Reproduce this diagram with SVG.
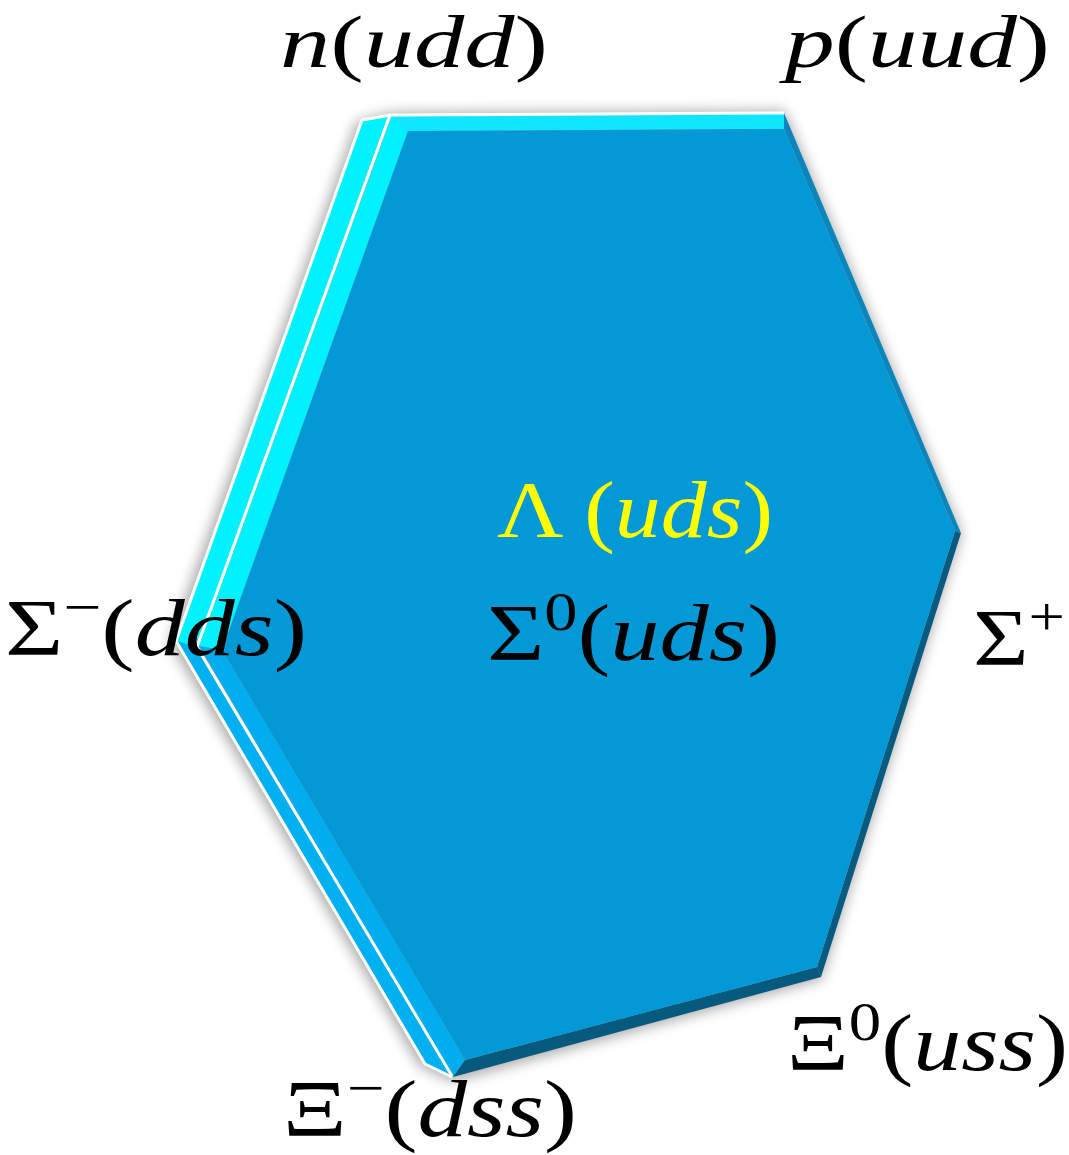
<svg xmlns="http://www.w3.org/2000/svg" width="1069" height="1155" viewBox="0 0 1069 1155">
<defs>
<filter id="sh" x="-20%" y="-20%" width="140%" height="140%">
<feGaussianBlur stdDeviation="7"/>
</filter>
<style>
.lbl{font-family:"Liberation Serif","DejaVu Serif",serif;font-size:80px;fill:#000}
.top{font-size:74px}
.it{font-style:italic}
.up{font-style:normal}
.sup{font-style:normal;font-size:54px}
.yel{fill:#ffff00}
.wl{fill:none;stroke:#ffffff;stroke-width:3;stroke-linejoin:round}
</style>
</defs>
<rect width="1069" height="1155" fill="#ffffff"/>
<g id="hexagon">
<polygon points="357,122 392,113 784,111 961,533 821,979 453,1081 420,1066 170,642" fill="#000" opacity="0.35" filter="url(#sh)"/>
<polygon points="363,120 388,116 196,647 177,641" fill="#00f2ff"/>
<polygon points="177,641 196,647 450,1075 425,1063" fill="#00b0f0"/>
<polygon points="392,115 784,113 784,129 408,131" fill="#10e6ff"/>
<polygon points="392,115 408,131 222,650 199,646" fill="#00f2ff"/>
<polygon points="199,646 222,650 465,1060 453,1077" fill="#00aeef"/>
<polygon points="784,113 961,533 955,531 784,129" fill="#0a86bd"/>
<polygon points="961,533 821,977 817,967 955,531" fill="#075a80"/>
<polygon points="821,977 453,1077 465,1060 817,967" fill="#065a7e"/>
<polygon points="408,131 784,129 955,531 817,967 465,1060 222,650" fill="#0399d6"/>
<polyline class="wl" points="390,115 197,647 452,1076"/>
<polyline class="wl" points="176,641 362,120 391,115 784,113"/>
<polyline class="wl" points="176,641 425,1064 452,1077"/>
</g>
<g id="label-n">
<text class="lbl top" x="280" y="67" textLength="268" lengthAdjust="spacingAndGlyphs"><tspan class="it">n</tspan><tspan class="up">(</tspan><tspan class="it">udd</tspan><tspan class="up">)</tspan></text>
</g>
<g id="label-p">
<text class="lbl top" x="785" y="67" textLength="265" lengthAdjust="spacingAndGlyphs"><tspan class="it">p</tspan><tspan class="up">(</tspan><tspan class="it">uud</tspan><tspan class="up">)</tspan></text>
</g>
<g id="label-lambda">
<text class="lbl yel" x="497" y="537" textLength="276" lengthAdjust="spacingAndGlyphs"><tspan class="up">Λ (</tspan><tspan class="it">uds</tspan><tspan class="up">)</tspan></text>
</g>
<g id="label-sigma0">
<text class="lbl" x="487" y="660" textLength="293" lengthAdjust="spacingAndGlyphs"><tspan class="up">Σ</tspan><tspan class="sup" dy="-30">0</tspan><tspan class="up" dy="30">(</tspan><tspan class="it">uds</tspan><tspan class="up">)</tspan></text>
</g>
<g id="label-sigma-minus">
<text class="lbl" x="5" y="655" textLength="302" lengthAdjust="spacingAndGlyphs"><tspan class="up">Σ</tspan><tspan class="sup" dy="-30">−</tspan><tspan class="up" dy="30">(</tspan><tspan class="it">dds</tspan><tspan class="up">)</tspan></text>
</g>
<g id="label-sigma-plus">
<text class="lbl" x="973" y="665" textLength="92" lengthAdjust="spacingAndGlyphs"><tspan class="up">Σ</tspan><tspan class="sup" dy="-30">+</tspan></text>
</g>
<g id="label-xi0">
<text class="lbl" x="787" y="1070" textLength="281" lengthAdjust="spacingAndGlyphs"><tspan class="up">Ξ</tspan><tspan class="sup" dy="-30">0</tspan><tspan class="up" dy="30">(</tspan><tspan class="it">uss</tspan><tspan class="up">)</tspan></text>
</g>
<g id="label-xi-minus">
<text class="lbl" x="283" y="1136" textLength="294" lengthAdjust="spacingAndGlyphs"><tspan class="up">Ξ</tspan><tspan class="sup" dy="-30">−</tspan><tspan class="up" dy="30">(</tspan><tspan class="it">dss</tspan><tspan class="up">)</tspan></text>
</g>
</svg>
